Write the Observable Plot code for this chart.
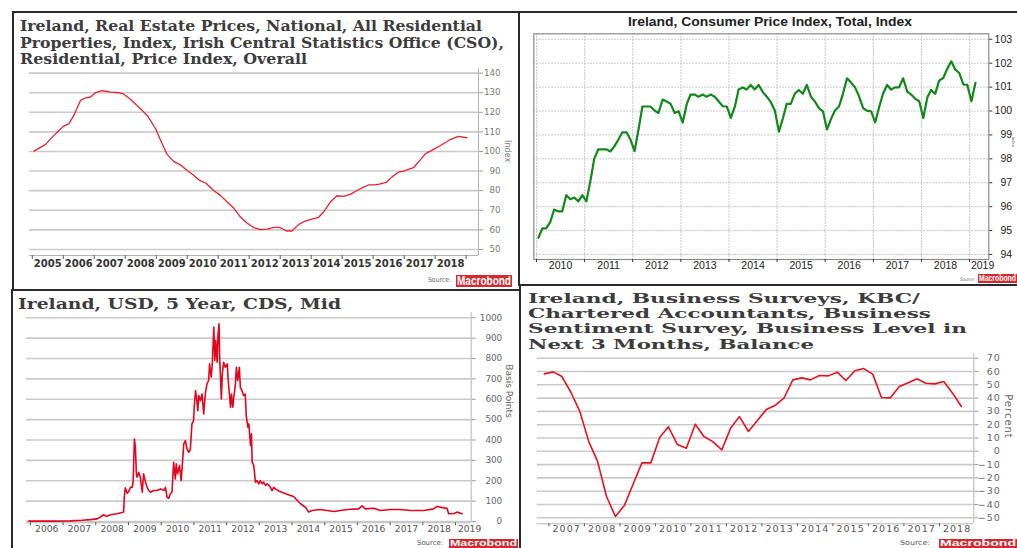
<!DOCTYPE html>
<html><head><meta charset="utf-8">
<script src="https://cdn.jsdelivr.net/npm/d3@7"></script>
<script src="https://cdn.jsdelivr.net/npm/@observablehq/plot@0.6"></script>
<style>
html,body{margin:0;padding:0;background:#fff;}
#page{position:relative;width:1017px;height:548px;overflow:hidden;background:#fff;}
#page svg{position:absolute;}
.t{position:absolute;white-space:nowrap;transform-origin:0 50%;}
.ln{position:absolute;background:#2a2a2a;}
</style></head><body><div id="page"></div>
<script>
// ---------- Panel 1: Real estate prices (decimal years / index) ----------
const reYears = [2005.05,2005.43,2005.70,2005.86,2006.00,2006.18,2006.34,2006.56,2006.72,2006.88,2007.04,2007.26,2007.53,2007.74,2007.93,2008.17,2008.49,2008.71,2008.98,2009.19,2009.35,2009.57,2009.78,2010.00,2010.20,2010.40,2010.60,2010.85,2011.07,2011.29,2011.50,2011.72,2011.93,2012.15,2012.37,2012.58,2012.80,2012.98,2013.20,2013.38,2013.60,2013.81,2014.02,2014.24,2014.40,2014.62,2014.83,2015.05,2015.26,2015.48,2015.69,2015.85,2016.07,2016.23,2016.44,2016.60,2016.82,2016.98,2017.30,2017.46,2017.68,2017.95,2018.16,2018.48,2018.75,2019.02];
const reValues = [100.2,103.6,108.2,110.7,112.8,114.1,118.4,126.1,127.4,127.8,130.0,131.0,130.3,130.1,129.5,126.7,121.8,118.4,111.6,103.9,98.5,94.8,93.2,90.3,88.0,85.2,83.9,80.1,77.6,74.2,71.1,66.5,63.5,61.1,60.1,60.4,61.3,61.3,59.4,59.4,62.8,64.5,65.5,66.4,69.1,74.2,77.4,77.1,78.1,80.1,81.8,82.9,82.9,83.5,84.4,86.9,89.5,90.0,91.7,94.6,98.8,101.1,102.9,106.0,107.7,107.0];
const reYearLabels = [2005,2006,2007,2008,2009,2010,2011,2012,2013,2014,2015,2016,2017,2018];
const reYTicks = [50,60,70,80,90,100,110,120,130,140];

// ---------- Panel 2: CPI, monthly from Jan 2010 ----------
const cpiStart = [2010, 1];
const cpiValues = [
 94.70,95.09,95.09,95.35,95.88,95.80,95.80,96.48,96.31,96.38,96.22,96.48,
 96.22,97.10,98.00,98.40,98.40,98.40,98.31,98.52,98.81,99.11,99.11,98.81,
 98.32,99.25,100.19,100.19,100.19,100.02,99.92,100.48,100.40,100.30,99.92,99.99,
 99.52,100.30,100.69,100.69,100.60,100.69,100.60,100.69,100.60,100.40,100.20,100.19,
 99.71,100.19,100.90,100.98,100.90,101.09,100.90,101.09,100.79,100.60,100.37,100.02,
 99.14,99.71,100.30,100.30,100.72,100.88,100.72,101.09,100.60,100.40,100.12,99.99,
 99.23,99.67,100.02,100.19,100.72,101.37,101.20,100.99,100.60,100.12,100.01,99.99,
 99.53,100.19,100.72,101.09,100.90,100.99,100.99,101.37,100.81,100.69,100.51,100.41,
 99.71,100.58,100.88,100.72,101.27,101.38,101.76,102.08,101.73,101.59,101.11,101.09,
 100.41,101.18];
const cpiYearLabels = [2010,2011,2012,2013,2014,2015,2016,2017,2018,2019];
const cpiYTicks = [94,95,96,97,98,99,100,101,102,103];

// ---------- Panel 3: CDS (decimal years / basis points) ----------
const cdsYears = [2005.95,2006.61,2007.22,2007.58,2007.83,2008.04,2008.14,2008.24,2008.32,2008.45,
 2008.65,2008.80,2008.85,2008.87,2008.90,2008.96,2009.01,2009.06,2009.11,2009.14,
 2009.18,2009.21,2009.24,2009.26,2009.31,2009.36,2009.42,2009.46,2009.52,2009.57,
 2009.62,2009.67,2009.77,2009.87,2009.98,2010.08,2010.13,2010.18,2010.23,2010.28,
 2010.33,2010.38,2010.43,2010.46,2010.50,2010.56,2010.61,2010.64,2010.69,2010.74,
 2010.79,2010.84,2010.89,2010.94,2010.99,2011.01,2011.05,2011.08,2011.12,2011.15,
 2011.20,2011.25,2011.30,2011.35,2011.40,2011.45,2011.48,2011.53,2011.56,2011.61,
 2011.64,2011.67,2011.71,2011.74,2011.77,2011.79,2011.81,2011.84,2011.87,2011.91,
 2011.96,2012.02,2012.05,2012.09,2012.12,2012.15,2012.19,2012.22,2012.27,2012.30,
 2012.34,2012.39,2012.42,2012.47,2012.52,2012.57,2012.60,2012.65,2012.68,2012.73,
 2012.76,2012.78,2012.83,2012.88,2012.93,2012.98,2013.03,2013.09,2013.13,2013.19,
 2013.24,2013.29,2013.34,2013.39,2013.44,2013.49,2013.59,2013.75,2013.95,2014.05,
 2014.16,2014.26,2014.41,2014.51,2014.61,2014.87,2015.07,2015.28,2015.69,2016.04,
 2016.14,2016.24,2016.50,2016.70,2017.01,2017.31,2017.62,2018.03,2018.33,2018.43,
 2018.64,2018.74,2018.79,2018.95,2019.05,2019.20];
const cdsValues = [2,2,3,6,9,13,22,33,25,33,
 38,44,47,119,165,139,149,168,168,193,
 405,364,234,217,242,217,144,234,193,168,
 152,144,152,152,160,152,168,119,114,136,
 144,291,209,283,234,275,201,266,381,397,
 356,340,352,479,495,561,642,610,544,618,
 593,626,528,626,675,692,774,708,766,954,
 790,888,782,921,970,790,724,601,724,782,
 757,774,692,618,561,626,561,610,675,757,
 692,757,659,642,618,626,520,463,479,373,
 430,291,275,193,201,185,201,185,193,177,
 185,177,168,152,168,160,150,140,128,123,
 103,87,70,46,54,59,54,49,59,62,
 77,62,65,54,59,59,54,54,62,74,
 67,65,38,39,46,38];
const cdsYearLabels = [2006,2007,2008,2009,2010,2011,2012,2013,2014,2015,2016,2017,2018,2019];
const cdsYTicks = [0,100,200,300,400,500,600,700,800,900,1000];

// ---------- Panel 4: Business sentiment, quarterly from Q4 2006 ----------
const bsStartQuarter = [2006, 4];
const bsValues = [58.2,59.7,56.2,44.4,30.0,7.3,-7.4,-33.8,-49.0,-40.8,-25.0,-8.7,-8.7,10.6,18.4,5.1,2.3,20.4,11.1,7.3,1.1,17.6,26.1,14.9,23.1,31.4,34.4,39.9,53.7,55.2,53.7,57.0,56.7,59.5,53.2,60.5,62.2,58.0,40.4,40.2,48.7,51.5,54.5,51.2,50.7,52.5,43.9,33.7];
const bsYearLabels = [2007,2008,2009,2010,2011,2012,2013,2014,2015,2016,2017,2018];
const bsYTicks = [-50,-40,-30,-20,-10,0,10,20,30,40,50,60,70];

// ---------- helpers ----------
const page = document.getElementById("page");
function dec(y){const Y=Math.floor(y);const a=Date.UTC(Y,0,1),b=Date.UTC(Y+1,0,1);return new Date(a+(y-Y)*(b-a));}
function yStart(y){return new Date(Date.UTC(y,0,1));}
function put(svg,left,top){svg.style.left=left+"px";svg.style.top=top+"px";page.appendChild(svg);}
function fitText(text,o){
  const s=document.createElement("div");s.className="t";s.textContent=text;
  const L=Math.round(o.size*0.8*10)/10;
  s.style.font=`${o.weight||"bold"} ${o.size}px ${o.family}`;
  s.style.lineHeight=L+"px";s.style.height=L+"px";s.style.color=o.color||"#333";
  page.appendChild(s);
  const nat=s.getBoundingClientRect().width;
  const left=o.center!==undefined?o.center-o.w/2:o.x;
  s.style.left=left+"px";s.style.top=(o.cy-L*0.5)+"px";
  s.style.transform=`scaleX(${o.w/nat})`;
  return s;
}
function logo(x,y,w,h){
  const d=document.createElement("div");
  d.style.cssText=`position:absolute;left:${x}px;top:${y}px;width:${w}px;height:${h}px;background:#d42a2f;overflow:hidden;`;
  page.appendChild(d);
  const s=document.createElement("div");s.textContent="Macrobond";
  s.style.cssText=`position:absolute;left:1px;top:0;white-space:nowrap;font:bold ${h}px 'Liberation Sans',sans-serif;line-height:${h}px;color:#fff;transform-origin:0 50%;`;
  d.appendChild(s);const nat=s.getBoundingClientRect().width;s.style.transform=`scaleX(${(w-2)/nat})`;
}
function line(l,t,w,h){const d=document.createElement("div");d.className="ln";d.style.cssText+=`left:${l}px;top:${t}px;width:${w}px;height:${h}px;`;page.appendChild(d);}

// ---------- Panel 1 ----------
{
  const data=reYears.map((y,i)=>({date:dec(y),value:reValues[i]}));
  const x0=2004.91,x1=2019.4,y0=46.9,y1=142.2;
  const p=Plot.plot({
    width:505,height:224,marginLeft:15,marginRight:41,marginTop:6.3,marginBottom:31,
    style:{background:"transparent",fontFamily:"DejaVu Sans",overflow:"visible"},
    x:{type:"utc",domain:[dec(x0),dec(x1)],axis:null},
    y:{domain:[y0,y1],axis:null},
    marks:[
      Plot.ruleY(reYTicks,{stroke:"#cacaca",strokeWidth:1.6}),
      Plot.ruleY([y0],{stroke:"#b5b5b5"}),
      Plot.ruleX([dec(x1)],{stroke:"#b5b5b5"}),
      Plot.axisY({anchor:"right",label:null,ticks:reYTicks,tickSize:4,tickFormat:()=>"",stroke:"#999"}),
      Plot.axisX({anchor:"bottom",label:null,ticks:reYearLabels.concat([2019]).map(yStart),tickSize:4,tickFormat:()=>"",stroke:"#555"}),
      Plot.text(reYearLabels,{x:d=>dec(d+0.5),frameAnchor:"bottom",dy:11,text:d=>String(d),fontSize:10,fontWeight:"bold",fill:"#333"}),
      Plot.text(reYTicks,{y:d=>d,frameAnchor:"right",dx:22,textAnchor:"end",text:d=>String(d),fontSize:8.6,fill:"#777"}),
      Plot.text(["Index"],{frameAnchor:"right",dx:29,rotate:90,fontSize:8,fill:"#777"}),
      Plot.line(data,{x:"date",y:"value",stroke:"#e8222c",strokeWidth:1.3})
    ]});
  put(p,14,62);
}

// ---------- Panel 2 ----------
{
  const data=cpiValues.map((v,i)=>({date:new Date(Date.UTC(cpiStart[0],cpiStart[1]-1+i,15)),value:v}));
  const x0=2009.944,x1=2019.4,y0=93.79,y1=103.23;
  const p=Plot.plot({
    width:497,height:246,marginLeft:13.3,marginRight:28.7,marginTop:3.3,marginBottom:17,
    style:{background:"transparent",fontFamily:"Liberation Sans",overflow:"visible"},
    x:{type:"utc",domain:[dec(x0),dec(x1)],axis:null},
    y:{domain:[y0,y1],axis:null},
    marks:[
      Plot.ruleY(cpiYTicks,{stroke:"#b8b8b8",strokeDasharray:"1.5,1.5"}),
      Plot.ruleX(cpiYearLabels.map(yStart),{stroke:"#b8b8b8",strokeDasharray:"1.5,1.5"}),
      Plot.frame({stroke:"#8a8a8a",strokeWidth:1.2}),
      Plot.axisX({anchor:"bottom",label:null,ticks:cpiYearLabels.map(yStart),tickSize:3,tickFormat:()=>"",stroke:"#333"}),
      Plot.axisY({anchor:"right",label:null,ticks:cpiYTicks,tickSize:3,tickFormat:()=>"",stroke:"#333"}),
      Plot.text(cpiYearLabels,{x:d=>dec(d===2019?2019.27:d+0.5),frameAnchor:"bottom",dy:9,text:d=>String(d),fontSize:10.5,fill:"#222"}),
      Plot.text(cpiYTicks,{y:d=>d,frameAnchor:"right",dx:23.3,textAnchor:"end",text:d=>String(d),fontSize:10.5,fill:"#222"}),
      Plot.text(["Index"],{frameAnchor:"right",dx:24.7,rotate:90,fontSize:4,fill:"#555"}),
      Plot.line(data,{x:"date",y:"value",stroke:"#11891a",strokeWidth:2.2})
    ]});
  put(p,520,30);
}

// ---------- Panel 3 ----------
{
  const data=cdsYears.map((y,i)=>({date:dec(y),value:cdsValues[i]}));
  const x0=2005.88,x1=2019.48,y0=-6.4,y1=1024.5;
  const p=Plot.plot({
    width:506,height:235,marginLeft:13,marginRight:48.3,marginTop:7.3,marginBottom:17.7,
    style:{background:"transparent",fontFamily:"DejaVu Sans",overflow:"visible"},
    x:{type:"utc",domain:[dec(x0),dec(x1)],axis:null},
    y:{domain:[y0,y1],axis:null},
    marks:[
      Plot.ruleY(cdsYTicks,{stroke:"#cacaca",strokeWidth:1.6}),
      Plot.ruleY([y0],{stroke:"#b5b5b5"}),
      Plot.ruleX([dec(x1)],{stroke:"#b5b5b5"}),
      Plot.axisY({anchor:"right",label:null,ticks:cdsYTicks,tickSize:4,tickFormat:()=>"",stroke:"#999"}),
      Plot.axisX({anchor:"bottom",label:null,ticks:cdsYearLabels.map(yStart),tickSize:3,tickFormat:()=>"",stroke:"#555"}),
      Plot.text(cdsYearLabels,{x:d=>dec(d===2019?2019.43:d+0.5),frameAnchor:"bottom",dy:9,text:d=>String(d),fontSize:9.2,fill:"#555"}),
      Plot.text(cdsYTicks,{y:d=>d,frameAnchor:"right",dx:31,textAnchor:"end",text:d=>String(d),fontSize:8.8,fill:"#666"}),
      Plot.text(["Basis Points"],{frameAnchor:"right",dx:37.3,rotate:90,fontSize:9,fill:"#666"}),
      Plot.line(data,{x:"date",y:"value",stroke:"#e3061e",strokeWidth:1.6})
    ]});
  put(p,13,305);
}

// ---------- Panel 4 ----------
{
  const data=bsValues.map((v,i)=>({date:new Date(Date.UTC(bsStartQuarter[0],(bsStartQuarter[1]-1)*3+1+3*i,15)),value:v}));
  const x0=2006.67,x1=2018.97,y0=-54.5,y1=73.3;
  const p=Plot.plot({
    width:496,height:190,marginLeft:15.7,marginRight:43.7,marginTop:3.3,marginBottom:16.7,
    style:{background:"transparent",fontFamily:"DejaVu Sans",overflow:"visible",letterSpacing:"1px"},
    x:{type:"utc",domain:[dec(x0),dec(x1)],axis:null},
    y:{domain:[y0,y1],axis:null},
    marks:[
      Plot.ruleY(bsYTicks,{stroke:"#cacaca",strokeWidth:1.6}),
      Plot.ruleY([y0],{stroke:"#b5b5b5"}),
      Plot.ruleX([dec(x1)],{stroke:"#b5b5b5"}),
      Plot.axisY({anchor:"right",label:null,ticks:bsYTicks,tickSize:4,tickFormat:()=>"",stroke:"#999"}),
      Plot.axisX({anchor:"bottom",label:null,ticks:bsYearLabels.map(yStart),tickSize:3,tickFormat:()=>"",stroke:"#555"}),
      Plot.text(bsYearLabels,{x:d=>dec(d+0.5),frameAnchor:"bottom",dy:8.5,text:d=>String(d),fontSize:9.5,fill:"#555"}),
      Plot.text(bsYTicks,{y:d=>d,frameAnchor:"right",dx:27,textAnchor:"end",text:d=>d<0?"\u2212"+Math.abs(d):String(d),fontSize:9.5,fill:"#666"}),
      Plot.text(["Percent"],{frameAnchor:"right",dx:34.7,rotate:90,fontSize:10,fill:"#666"}),
      Plot.line(data,{x:"date",y:"value",stroke:"#e8121f",strokeWidth:1.6})
    ]});
  put(p,521,350);
}

// ---------- titles ----------
const SERIF="'DejaVu Serif',serif";
fitText("Ireland, Real Estate Prices, National, All Residential",{x:20,cy:25.5,w:462,size:14.4,family:SERIF,color:"#3c3c3c"});
fitText("Properties, Index, Irish Central Statistics Office (CSO),",{x:20,cy:42.5,w:484,size:14.4,family:SERIF,color:"#3c3c3c"});
fitText("Residential, Price Index, Overall",{x:20,cy:59.2,w:287,size:14.4,family:SERIF,color:"#3c3c3c"});
fitText("Ireland, Consumer Price Index, Total, Index",{center:769.5,cy:22.3,w:284,size:12.5,family:"'Liberation Sans',sans-serif",color:"#222"});
fitText("Ireland, USD, 5 Year, CDS, Mid",{x:18,cy:303.5,w:323,size:14.7,family:SERIF,color:"#3c3c3c"});
fitText("Ireland, Business Surveys, KBC/",{x:527.7,cy:298.8,w:392,size:13,family:SERIF,color:"#3c3c3c"});
fitText("Chartered Accountants, Business",{x:527.7,cy:313.8,w:403,size:13,family:SERIF,color:"#3c3c3c"});
fitText("Sentiment Survey, Business Level in",{x:527.7,cy:329.5,w:439,size:13,family:SERIF,color:"#3c3c3c"});
fitText("Next 3 Months, Balance",{x:527.7,cy:344.8,w:286,size:13,family:SERIF,color:"#3c3c3c"});

// ---------- sources ----------
fitText("Source:",{x:428,cy:281,w:23,size:7,weight:"normal",family:"'DejaVu Sans',sans-serif",color:"#666"});
logo(456,275,56,12);
fitText("Source:",{x:960,cy:279,w:15,size:5,weight:"normal",family:"'DejaVu Sans',sans-serif",color:"#666"});
logo(978,274,39,9);
fitText("Source:",{x:417,cy:543.5,w:26,size:7,weight:"normal",family:"'DejaVu Sans',sans-serif",color:"#555"});
logo(449,539,69,9);
fitText("Source:",{x:900,cy:543.5,w:30,size:7,weight:"normal",family:"'DejaVu Sans',sans-serif",color:"#555"});
logo(939,539,78,9);

// ---------- panel borders ----------
line(13,11,1004,2);
line(12,11,2,278);
line(517.5,11,2,275);
line(518,284,499,2);
line(11,289,509,2);
line(11,289,2,259);
line(519,284,2,264);
</script>
</body></html>
